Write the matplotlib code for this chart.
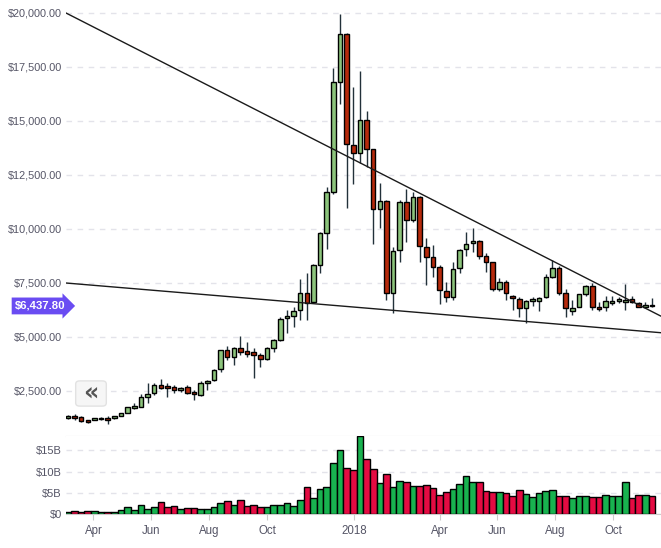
import matplotlib
matplotlib.use("Agg")
import matplotlib.pyplot as plt
import matplotlib.dates as mdates
import matplotlib.ticker as mticker
from matplotlib import transforms
from matplotlib.patches import FancyBboxPatch
import pandas as pd

plt.rcParams["font.family"] = ["Liberation Sans", "DejaVu Sans"]

# weekly candles, BTC/USD
week_start = "2017-03-05"
n_weeks = 89

opens = [1250, 1330, 1300, 1160, 1160, 1190, 1265, 1235, 1330, 1500,
         1700, 1775, 2220, 2390, 2760, 2715, 2670, 2550, 2670, 2450,
         2320, 2860, 3000, 3505, 4385, 4090, 4470, 4340, 4300, 4160,
         4000, 4475, 4860, 5865, 5985, 6250, 7020, 6640, 8335, 9800,
         11700, 16790, 19010, 13875, 13505, 15030, 13690, 10910, 11280, 7025,
         9030, 11250, 10420, 11500, 9180, 8690, 8225, 7145, 6870, 8180,
         9060, 9335, 9445, 8750, 8490, 7210, 7560, 6915, 6760, 6330,
         6650, 6680, 6840, 7790, 8210, 7025, 6220, 6405, 6980, 7360,
         6400, 6370, 6560, 6650, 6620, 6760, 6590, 6400, 6500]
highs = [1380, 1420, 1350, 1170, 1260, 1280, 1355, 1360, 1500, 1780,
         1930, 2360, 2860, 2850, 3040, 2860, 2800, 2700, 2780, 2550,
         2980, 3020, 3520, 4400, 4580, 4560, 5040, 4770, 4475, 4250,
         4560, 4920, 5910, 6250, 6400, 7670, 7950, 8360, 9850, 11960,
         17440, 19950, 19060, 16560, 17320, 15460, 13690, 12120, 11340, 9180,
         11340, 11840, 11700, 11520, 9600, 9260, 8330, 7560, 8470, 9080,
         9880, 10030, 9500, 8870, 8490, 7720, 7640, 6945, 6865, 6720,
         6840, 6840, 7920, 8565, 8270, 7210, 6710, 7000, 7400, 7490,
         6600, 6900, 6890, 6850, 7440, 6880, 6640, 6600, 6790]
lows = [1200, 1160, 1080, 1000, 1140, 1180, 970, 1220, 1320, 1490,
        1690, 1760, 1960, 2330, 2600, 2240, 2400, 2450, 2380, 2100,
        2280, 2550, 2960, 3370, 3940, 3700, 4160, 4090, 3090, 3630,
        3940, 4320, 4830, 5200, 5480, 5800, 5790, 6560, 7950, 9060,
        11600, 15770, 10990, 12070, 13040, 12890, 9290, 10060, 6710, 6100,
        8490, 9410, 10330, 8490, 7410, 7790, 6530, 6640, 6700, 7950,
        8750, 8950, 8600, 8020, 7150, 7150, 6710, 6250, 5940, 5630,
        6440, 6220, 6790, 7730, 6950, 5940, 6020, 6380, 6900, 6250,
        6200, 6200, 6500, 6560, 6250, 6560, 6370, 6350, 6400]
closes = [1330, 1240, 1130, 1050, 1240, 1265, 1165, 1340, 1480, 1760,
          1820, 2240, 2360, 2760, 2650, 2620, 2550, 2650, 2430, 2350,
          2850, 2960, 3460, 4385, 4090, 4470, 4320, 4230, 4180, 3990,
          4475, 4860, 5820, 5970, 6200, 7025, 6590, 8330, 9800, 11700,
          16790, 19010, 13920, 13505, 15030, 13690, 10910, 11280, 7025, 8980,
          11250, 10420, 11500, 9230, 8690, 8225, 7175, 6870, 8130, 9030,
          9290, 9445, 8750, 8490, 7210, 7560, 7025, 6790, 6330, 6680,
          6745, 6790, 7760, 8210, 7025, 6360, 6330, 6980, 7360, 6405,
          6280, 6680, 6665, 6760, 6720, 6640, 6400, 6480, 6437.80]
# weekly volume, billions of USD
volumes = [0.55, 0.8, 0.45, 0.8, 0.8, 0.45, 0.45, 0.45, 1.0, 1.65,
           1.0, 2.1, 1.25, 1.65, 2.9, 1.65, 1.9, 1.2, 1.4, 1.4,
           1.2, 1.2, 1.65, 2.6, 3.05, 2.1, 3.3, 1.9, 2.1, 1.65,
           1.65, 2.1, 2.1, 2.6, 1.9, 3.3, 6.3, 3.75, 5.85, 6.3,
           12.1, 15.0, 10.8, 10.3, 18.4, 12.9, 10.55, 7.27, 9.4, 6.33,
           7.73, 7.5, 6.56, 6.56, 6.8, 6.1, 4.45, 5.16, 5.86, 7.03,
           8.9, 7.5, 7.5, 5.4, 5.16, 5.16, 4.9, 4.2, 5.6, 4.7,
           4.0, 4.9, 5.4, 5.6, 4.2, 4.2, 3.75, 4.2, 4.2, 4.0,
           4.0, 4.45, 4.2, 4.2, 7.5, 3.75, 4.45, 4.45, 4.2]

# two trend lines drawn on the chart (date, price)
upper_line_dates = ["2017-03-03", "2018-11-20"]
upper_line_prices = [20000, 5975]
lower_line_dates = ["2017-03-03", "2018-11-20"]
lower_line_prices = [7500, 5200]

dates = pd.date_range(week_start, periods=n_weeks, freq="7D")
x = mdates.date2num(dates)

up_body = "#8cc47c"
down_body = "#b62a0c"
up_vol = "#18b24f"
down_vol = "#e40b42"
wick_col = "#22313a"
grid_col = "#e3e3ea"
label_col = "#555566"

rising = [c >= o for o, c in zip(opens, closes)]

fig = plt.figure(figsize=(6.61, 5.48), dpi=100)
left = 66 / 661
ax = fig.add_axes([left, 1 - 436 / 548, 1 - left, 436 / 548])
axv = fig.add_axes([left, 1 - 514 / 548, 1 - left, 78 / 548], sharex=ax)

# candles
ax.vlines(x, lows, highs, color=wick_col, lw=1.0, zorder=2)
body_bottom = [min(o, c) for o, c in zip(opens, closes)]
body_height = [max(abs(c - o), 25) for o, c in zip(opens, closes)]
ax.bar(x, body_height, bottom=body_bottom, width=4.8,
       color=[up_body if r else down_body for r in rising],
       edgecolor="black", linewidth=1.0, zorder=3)

# trend lines
ax.plot(mdates.datestr2num(upper_line_dates), upper_line_prices,
        color="#1a1a1a", lw=1.0, zorder=4)
ax.plot(mdates.datestr2num(lower_line_dates), lower_line_prices,
        color="#1a1a1a", lw=1.0, zorder=4)

ax.set_ylim(417, 20602)
ax.set_xlim(mdates.datestr2num("2017-03-03"), mdates.datestr2num("2018-11-20 12:00"))
ax.yaxis.set_major_locator(mticker.MultipleLocator(2500))
ax.yaxis.set_major_formatter(mticker.FuncFormatter(lambda v, p: f"${v:,.2f}"))
ax.grid(axis="y", color=grid_col, lw=1.0, linestyle=(0, (4, 4)))
ax.set_axisbelow(True)
for s in ["top", "right", "left"]:
    ax.spines[s].set_visible(False)
ax.spines["bottom"].set_color("#cccccc")
ax.tick_params(axis="y", length=0, pad=3, labelsize=7.8, labelcolor=label_col)
ax.tick_params(axis="x", length=0, labelbottom=False)
for lab in ax.get_yticklabels():
    lab.set_verticalalignment("center")

# volume
axv.bar(x, volumes, width=7, color=[up_vol if r else down_vol for r in rising],
        edgecolor="black", linewidth=1.0, zorder=3)
axv.set_ylim(0, 18.4)
axv.yaxis.set_major_locator(mticker.FixedLocator([0, 5, 10, 15]))
axv.yaxis.set_major_formatter(mticker.FuncFormatter(
    lambda v, p: "$0" if v == 0 else f"${v:.0f}B"))
axv.grid(axis="y", color=grid_col, lw=1.0, linestyle=(0, (4, 4)))
axv.set_axisbelow(True)
for s in ["top", "right", "left"]:
    axv.spines[s].set_visible(False)
axv.spines["bottom"].set_color("#cccccc")
axv.xaxis.set_major_locator(mdates.MonthLocator(bymonth=[1, 4, 6, 8, 10]))
axv.xaxis.set_major_formatter(mticker.FuncFormatter(
    lambda v, p: mdates.num2date(v).strftime("%Y") if mdates.num2date(v).month == 1
    else mdates.num2date(v).strftime("%b")))
axv.tick_params(axis="x", length=4, color="#cccccc", pad=4, labelsize=8.3, labelcolor=label_col)
axv.tick_params(axis="y", length=0, pad=3, labelsize=8.0, labelcolor=label_col)

# last price tag
tr = transforms.blended_transform_factory(ax.transAxes, ax.transData)
ax.text(-0.043, closes[-1], f"${closes[-1]:,.2f}", transform=tr, ha="center", va="center",
        fontsize=8.2, fontweight="bold", color="white", zorder=6, clip_on=False,
        bbox=dict(boxstyle="rarrow,pad=0.3", fc="#6a4cf2", ec="none"))

# scroll button
btn = FancyBboxPatch((77 / 661, 1 - 405 / 548), 28 / 661, 23 / 548,
                     boxstyle="round,pad=0.002,rounding_size=0.006",
                     transform=fig.transFigure, fc="#f6f6f6", ec="#e2e2e2", lw=1, zorder=5)
fig.patches.append(btn)
fig.text(91 / 661, 1 - 394 / 548, "«", ha="center", va="center", fontsize=17,
         fontweight="bold", color="#555555", family="DejaVu Sans", zorder=6)

fig.savefig("out.png", dpi=100)
